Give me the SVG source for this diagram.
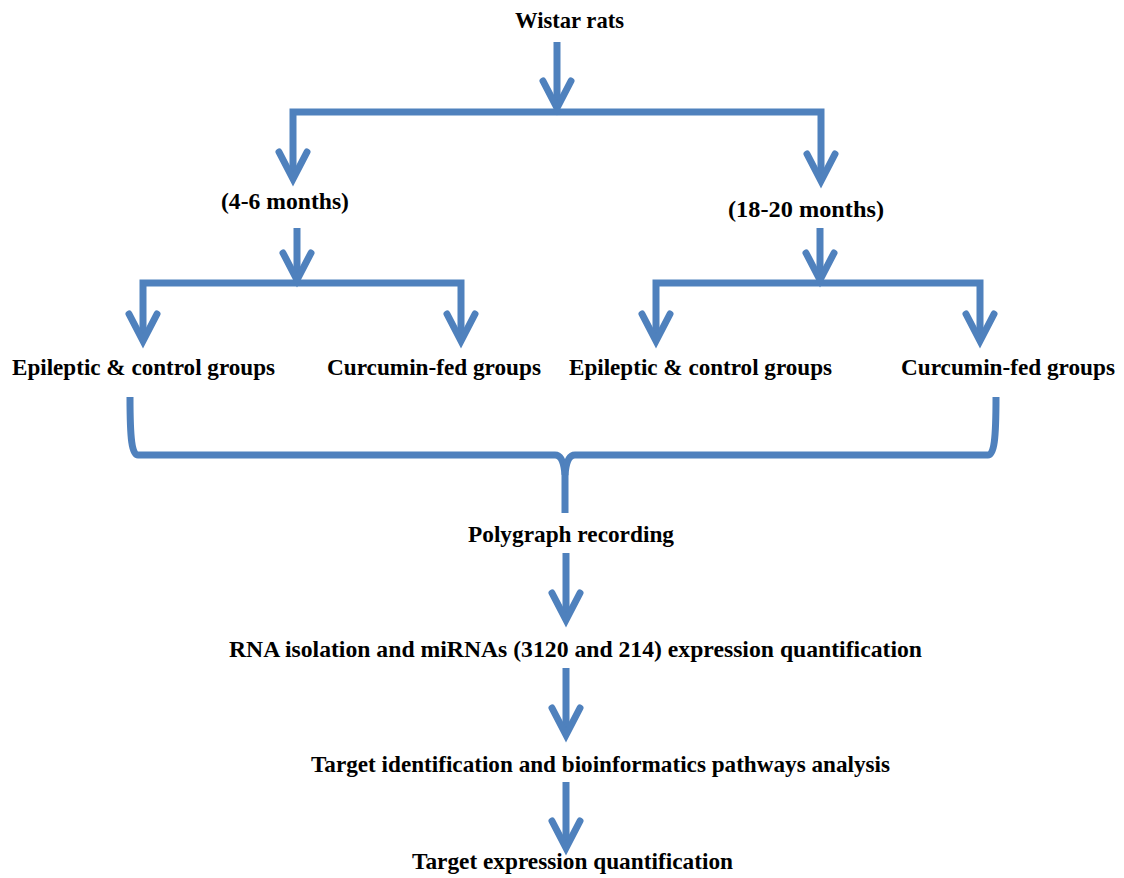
<svg xmlns="http://www.w3.org/2000/svg" width="1124" height="878" viewBox="0 0 1124 878">
  <style>
    .lbl { font-family: "Liberation Serif", "Times New Roman", serif; font-weight: bold; font-size: 23px; fill: #000; }
    .ln { fill: none; stroke: #4F81BD; stroke-width: 7; stroke-linejoin: miter; }
    .arr { marker-end: url(#head); }
  </style>
  <defs>
    <marker id="head" markerUnits="userSpaceOnUse" orient="auto" overflow="visible" markerWidth="1" markerHeight="1" refX="0" refY="0">
      <path d="M -27 -14 L 0 0 L -27 14" fill="none" stroke="#4F81BD" stroke-width="7" stroke-linecap="round" stroke-linejoin="miter"/>
    </marker>
  </defs>
  <rect width="1124" height="878" fill="#fff"/>

  <g id="connectors">
    <!-- top split -->
    <path class="ln arr" d="M557,42 V108"/>
    <path class="ln arr" d="M557,112 H293 V179"/>
    <path class="ln arr" d="M557,112 H821 V181"/>
    <!-- young branch split -->
    <path class="ln arr" d="M297,228 V280"/>
    <path class="ln arr" d="M297,283 H143 V341"/>
    <path class="ln arr" d="M297,283 H461 V341"/>
    <!-- old branch split -->
    <path class="ln arr" d="M820,228 V280"/>
    <path class="ln arr" d="M820,283 H656 V341"/>
    <path class="ln arr" d="M820,283 H980 V341"/>
    <!-- brace joining all groups -->
    <path class="ln" d="M130,397 C130,440 132,455 138,455 H555 C561,455 564,462 565,475 V513"/>
    <path class="ln" d="M996,397 C996,440 994,455 988,455 H575 C569,455 566,462 565,475"/>
    <!-- sequential steps -->
    <path class="ln arr" d="M566,553 V620"/>
    <path class="ln arr" d="M566,668 V735"/>
    <path class="ln arr" d="M566,782 V848"/>
  </g>

  <g id="wistar"><text class="lbl" x="515" y="28" textLength="109" lengthAdjust="spacingAndGlyphs">Wistar rats</text></g>
  <g id="young"><text class="lbl" x="221" y="209" textLength="128" lengthAdjust="spacingAndGlyphs">(4-6 months)</text></g>
  <g id="old"><text class="lbl" x="728" y="217" textLength="156" lengthAdjust="spacingAndGlyphs">(18-20 months)</text></g>
  <g id="young-epileptic"><text class="lbl" x="12" y="375" textLength="263" lengthAdjust="spacingAndGlyphs">Epileptic &amp; control groups</text></g>
  <g id="young-curcumin"><text class="lbl" x="327" y="375" textLength="214" lengthAdjust="spacingAndGlyphs">Curcumin-fed groups</text></g>
  <g id="old-epileptic"><text class="lbl" x="569" y="375" textLength="263" lengthAdjust="spacingAndGlyphs">Epileptic &amp; control groups</text></g>
  <g id="old-curcumin"><text class="lbl" x="901" y="375" textLength="214" lengthAdjust="spacingAndGlyphs">Curcumin-fed groups</text></g>
  <g id="polygraph"><text class="lbl" x="468" y="542" textLength="206" lengthAdjust="spacingAndGlyphs">Polygraph recording</text></g>
  <g id="rna"><text class="lbl" x="229" y="657" textLength="693" lengthAdjust="spacingAndGlyphs">RNA isolation and miRNAs (3120 and 214) expression quantification</text></g>
  <g id="targets"><text class="lbl" x="311" y="772" textLength="579" lengthAdjust="spacingAndGlyphs">Target identification and bioinformatics pathways analysis</text></g>
  <g id="target-expr"><text class="lbl" x="412" y="869" textLength="321" lengthAdjust="spacingAndGlyphs">Target expression quantification</text></g>
</svg>
